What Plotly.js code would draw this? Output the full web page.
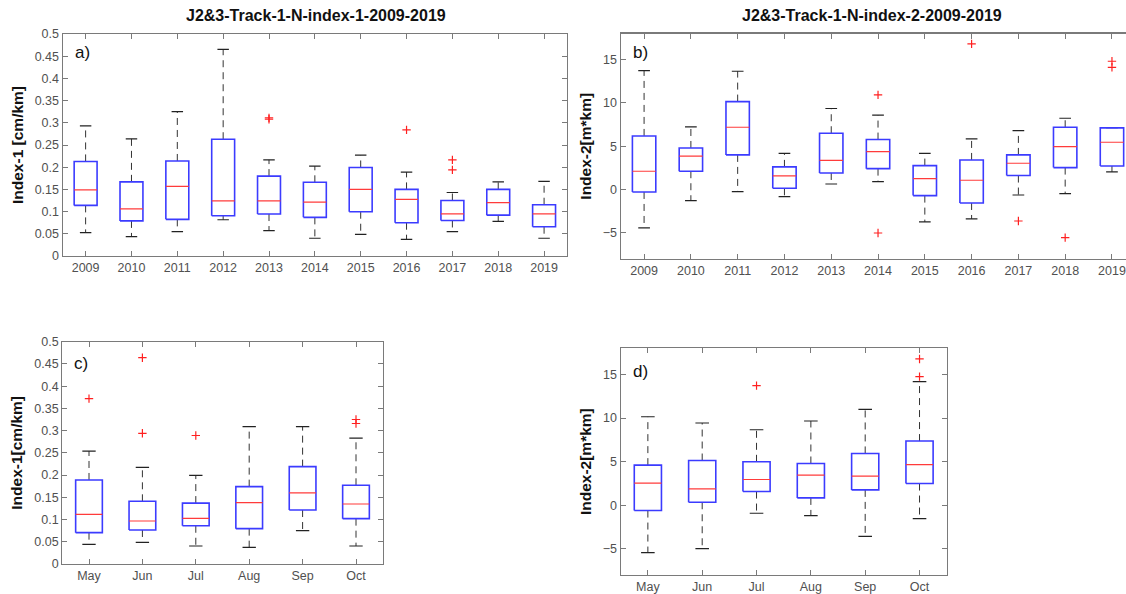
<!DOCTYPE html>
<html>
<head>
<meta charset="utf-8">
<script src="https://cdn.plot.ly/plotly-3.0.1.min.js"></script>
<style>html,body{margin:0;padding:0;background:#fff;}#chart{width:1126px;height:594px;}</style>
</head>
<body>
<div id="chart"></div>
<script>
// ---------- data ----------
const years = ['2009','2010','2011','2012','2013','2014','2015','2016','2017','2018','2019'];
const months = ['May','Jun','Jul','Aug','Sep','Oct'];

// a) Index-1 by year
const aLow  = [0.0525,0.0435,0.055,0.0817,0.057,0.040,0.0487,0.0375,0.0547,0.078,0.040];
const aQ1   = [0.114,0.079,0.0825,0.0907,0.0945,0.087,0.0997,0.075,0.080,0.092,0.066];
const aMed  = [0.149,0.106,0.157,0.124,0.124,0.1214,0.150,0.1274,0.095,0.120,0.095];
const aQ3   = [0.213,0.167,0.214,0.263,0.180,0.166,0.1994,0.150,0.125,0.150,0.1155];
const aHigh = [0.293,0.264,0.325,0.4655,0.2166,0.2024,0.227,0.189,0.143,0.167,0.168];
const aOutCat = ['2013','2013','2016','2017','2017'];
const aOutVal = [0.308,0.311,0.284,0.2166,0.194];

// b) Index-2 by year
const bLow  = [-4.42,-1.27,-0.23,-0.80,0.65,0.92,-3.73,-3.38,-0.62,-0.46,2.04];
const bQ1   = [-0.27,2.12,4.00,0.15,1.92,2.42,-0.69,-1.54,1.62,2.54,2.73];
const bMed  = [2.12,3.85,7.19,1.58,3.38,4.38,1.27,1.08,3.04,4.96,5.46];
const bQ3   = [6.19,4.80,10.15,2.62,6.50,5.77,2.77,3.42,4.00,7.19,7.12];
const bHigh = [13.73,7.23,13.65,4.19,9.35,8.58,4.19,5.85,6.81,8.23,7.15];
const bOutCat = ['2014','2014','2016','2017','2018','2019','2019'];
const bOutVal = [10.92,-5.0,16.8,-3.62,-5.54,14.8,14.1];

// c) Index-1 by month
const cLow  = [0.0442,0.0487,0.0405,0.0375,0.075,0.0405];
const cQ1   = [0.0705,0.0765,0.086,0.0795,0.1214,0.102];
const cMed  = [0.1117,0.0967,0.1027,0.138,0.160,0.135];
const cQ3   = [0.189,0.141,0.137,0.174,0.219,0.177];
const cHigh = [0.254,0.2174,0.1994,0.309,0.309,0.283];
const cOutCat = ['May','Jun','Jun','Jul','Oct','Oct'];
const cOutVal = [0.372,0.464,0.294,0.289,0.325,0.316];

// d) Index-2 by month
const dLow  = [-5.44,-4.98,-0.92,-1.19,-3.56,-1.53];
const dQ1   = [-0.61,0.34,1.57,0.84,1.76,2.49];
const dMed  = [2.53,1.88,2.95,3.45,3.33,4.67];
const dQ3   = [4.60,5.13,4.98,4.79,5.94,7.36];
const dHigh = [10.15,9.43,8.66,9.66,11.0,14.18];
const dOutCat = ['Jul','Oct','Oct'];
const dOutVal = [13.72,16.78,14.75];

// ---------- styling ----------
const BOX_HALF = 0.25, CAP_HALF = 0.125;
const FONT = 'Liberation Sans, Arial, Helvetica, sans-serif';

function panel(cats, low, q1, med, q3, high, outCat, outVal, xa, ya) {
  const wx = [], wy = [], cx = [], cy = [], bx = [], by = [], mx = [], my = [];
  cats.forEach((c, k) => {
    const i = k + 1;
    wx.push(i, i, null, i, i, null);
    wy.push(q3[k], high[k], null, q1[k], low[k], null);
    cx.push(i - CAP_HALF, i + CAP_HALF, null, i - CAP_HALF, i + CAP_HALF, null);
    cy.push(high[k], high[k], null, low[k], low[k], null);
    bx.push(i - BOX_HALF, i + BOX_HALF, i + BOX_HALF, i - BOX_HALF, i - BOX_HALF, null);
    by.push(q1[k], q1[k], q3[k], q3[k], q1[k], null);
    mx.push(i - BOX_HALF, i + BOX_HALF, null);
    my.push(med[k], med[k], null);
  });
  const ox = outCat.map(c => cats.indexOf(c) + 1);
  const common = {xaxis: xa, yaxis: ya, showlegend: false, hoverinfo: 'skip', type: 'scatter'};
  return [
    Object.assign({x: wx, y: wy, mode: 'lines', line: {color: '#333333', width: 1, dash: '7px,5px'}}, common),
    Object.assign({x: cx, y: cy, mode: 'lines', line: {color: '#222222', width: 1.2}}, common),
    Object.assign({x: bx, y: by, mode: 'lines', line: {color: '#3b3bff', width: 1.6}}, common),
    Object.assign({x: mx, y: my, mode: 'lines', line: {color: '#ff3b3b', width: 1.2}}, common),
    Object.assign({x: ox, y: outVal, mode: 'markers',
      marker: {symbol: 'cross-thin', size: 6, color: '#ff2020', line: {color: '#ff2020', width: 1.2}}}, common)
  ];
}

const traces = [].concat(
  panel(years, aLow, aQ1, aMed, aQ3, aHigh, aOutCat, aOutVal, 'x', 'y'),
  panel(years, bLow, bQ1, bMed, bQ3, bHigh, bOutCat, bOutVal, 'x2', 'y2'),
  panel(months, cLow, cQ1, cMed, cQ3, cHigh, cOutCat, cOutVal, 'x3', 'y3'),
  panel(months, dLow, dQ1, dMed, dQ3, dHigh, dOutCat, dOutVal, 'x4', 'y4')
);

const W = 1126, H = 594;
const px = v => v / W, py = v => 1 - v / H;

function xAxis(dom, anchor, labels, rng, mirror) {
  return {
    domain: dom, anchor: anchor, range: rng,
    tickmode: 'array', tickvals: labels.map((_, i) => i + 1), ticktext: labels,
    ticks: 'inside', ticklen: 5, tickcolor: '#7a7a7a', tickwidth: 1,
    showline: true, linecolor: '#7a7a7a', linewidth: 1.2, mirror: mirror,
    showgrid: false, zeroline: false, fixedrange: true,
    tickfont: {family: FONT, size: 12.5, color: '#505050'}
  };
}
function yAxis(dom, anchor, rng, dtick, title, mirror) {
  return {
    domain: dom, anchor: anchor, range: rng, tick0: 0, dtick: dtick,
    ticks: 'inside', ticklen: 5, tickcolor: '#7a7a7a', tickwidth: 1,
    showline: true, linecolor: '#7a7a7a', linewidth: 1.2, mirror: mirror,
    showgrid: false, zeroline: false, fixedrange: true,
    tickfont: {family: FONT, size: 12.5, color: '#505050'},
    title: {text: title, standoff: 7, font: {family: FONT, size: 15.5, color: '#111', weight: 'bold'}}
  };
}

const layout = {
  width: W, height: H,
  margin: {l: 0, r: 0, t: 0, b: 0},
  paper_bgcolor: '#ffffff', plot_bgcolor: '#ffffff',
  showlegend: false,
  xaxis:  xAxis([px(62.7), px(567)], 'y', years, [0.5, 11.5], 'ticks'),
  yaxis:  yAxis([py(256), py(34)], 'x', [0, 0.5], 0.05, 'Index-1 [cm/km]', 'ticks'),
  xaxis2: xAxis([px(620.7), 1], 'y2', years, [0.5, 11.3], 'ticks'),
  yaxis2: yAxis([py(259), py(33.5)], 'x2', [-8, 18], 5, 'Index-2[m*km]', false),
  xaxis3: xAxis([px(62.3), px(382.7)], 'y3', months, [0.5, 6.5], 'ticks'),
  yaxis3: yAxis([py(564), py(341.7)], 'x3', [0, 0.5], 0.05, 'Index-1[cm/km]', 'ticks'),
  xaxis4: xAxis([px(620.7), px(946.7)], 'y4', months, [0.5, 6.5], 'ticks'),
  yaxis4: yAxis([py(575), py(348.3)], 'x4', [-8, 18], 5, 'Index-2[m*km]', 'ticks'),
  annotations: [
    {text: 'J2&3-Track-1-N-index-1-2009-2019', xref: 'paper', yref: 'paper', x: px(316), y: py(16),
     xanchor: 'center', yanchor: 'middle',
     showarrow: false, font: {family: FONT, size: 16, color: '#111', weight: 'bold'}},
    {text: 'J2&3-Track-1-N-index-2-2009-2019', xref: 'paper', yref: 'paper', x: px(872), y: py(16),
     xanchor: 'center', yanchor: 'middle',
     showarrow: false, font: {family: FONT, size: 16, color: '#111', weight: 'bold'}},
    {text: 'a)', xref: 'paper', yref: 'paper', x: px(73), y: py(53), xanchor: 'left', yanchor: 'middle',
     showarrow: false, font: {family: FONT, size: 17, color: '#111'}},
    {text: 'b)', xref: 'paper', yref: 'paper', x: px(631), y: py(53), xanchor: 'left', yanchor: 'middle',
     showarrow: false, font: {family: FONT, size: 17, color: '#111'}},
    {text: 'c)', xref: 'paper', yref: 'paper', x: px(72), y: py(363), xanchor: 'left', yanchor: 'middle',
     showarrow: false, font: {family: FONT, size: 17, color: '#111'}},
    {text: 'd)', xref: 'paper', yref: 'paper', x: px(631), y: py(371.5), xanchor: 'left', yanchor: 'middle',
     showarrow: false, font: {family: FONT, size: 17, color: '#111'}}
  ]
};

Plotly.newPlot('chart', traces, layout, {displayModeBar: false, staticPlot: true});
</script>
</body>
</html>
